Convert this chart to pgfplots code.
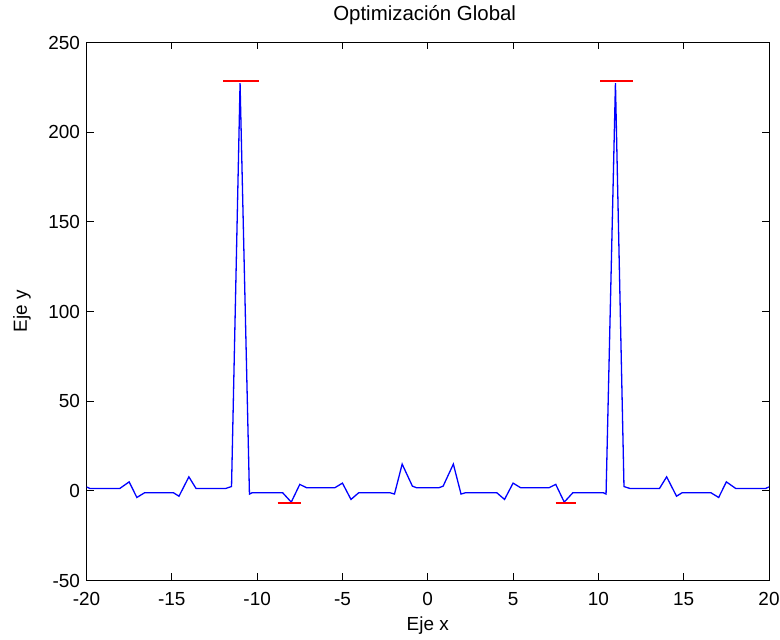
\documentclass[border=0pt]{standalone}
\usepackage{fontspec}
\setmainfont{Liberation Sans}
\usepackage{pgfplots}
\pgfplotsset{compat=1.18}
\definecolor{mred}{RGB}{255,0,0}
\definecolor{mblue}{RGB}{0,0,255}
\begin{document}
\begin{tikzpicture}[x=1bp,y=1bp]
\useasboundingbox (0,0) rectangle (780,640);
\begin{axis}[
  at={(86.5bp,59.5bp)}, anchor=south west,
  scale only axis, width=682.5bp, height=538bp,
  xmin=-20, xmax=20, ymin=-50, ymax=250,
  xtick={-20,-15,...,20}, ytick={-50,0,...,250},
  tick align=inside, major tick length=7bp,
  tick style={black, line width=0.8bp},
  axis line style={black, line width=0.8bp},
  /pgf/number format/assume math mode=true,
  every tick label/.append style={font=\fontsize{19}{22}\selectfont},
  xticklabel style={anchor=base, yshift=-25bp},
  yticklabel style={anchor=east, xshift=-3bp},
  title={Optimización Global},
  title style={at={(axis description cs:0.4955,1)}, anchor=base, yshift=16bp, font=\fontsize{20.5}{24}\selectfont},
  xlabel={Eje x},
  xlabel style={at={(axis description cs:0.5,0)}, anchor=base, yshift=-50bp, font=\fontsize{19}{22}\selectfont},
  ylabel={Eje y},
  ylabel style={at={(axis description cs:-0.0945,0.5)}, anchor=center, font=\fontsize{19}{22}\selectfont},
]
\addplot[draw=mblue, line width=1.3bp, mark=none] coordinates {
(-20,2.2) (-19.8,1.3) (-18.05,1.3) (-17.5,5.0) (-17.05,-3.7) (-16.6,-1.1)
(-14.9,-1.1) (-14.58,-3.0) (-14.0,7.8) (-13.58,1.3) (-11.85,1.3) (-11.5,2.4)
(-11.0,227.3) (-10.45,-1.8) (-10.3,-1.1) (-8.5,-1.1) (-8.0,-6.3) (-7.5,3.6)
(-7.1,1.7) (-5.45,1.7) (-5.0,4.3) (-4.5,-4.8) (-4.05,-1.1) (-2.2,-1.1)
(-1.95,-1.8) (-1.5,14.9) (-0.9,2.6) (-0.65,1.7)
(0.65,1.7) (0.9,2.6) (1.5,14.9) (1.95,-1.8) (2.2,-1.1) (4.05,-1.1)
(4.5,-4.8) (5.0,4.3) (5.45,1.7) (7.1,1.7) (7.5,3.6) (8.0,-6.3) (8.5,-1.1)
(10.3,-1.1) (10.45,-1.8) (11.0,227.3) (11.5,2.4) (11.85,1.3) (13.58,1.3)
(14.0,7.8) (14.58,-3.0) (14.9,-1.1) (16.6,-1.1) (17.05,-3.7) (17.5,5.0)
(18.05,1.3) (19.8,1.3) (20,2.2)
};
\addplot[draw=mred, line width=2bp, mark=none] coordinates {(-12.0,228.3) (-9.9,228.3)};
\addplot[draw=mred, line width=2bp, mark=none] coordinates {(10.1,228.3) (12.0,228.3)};
\addplot[draw=mred, line width=2bp, mark=none] coordinates {(-8.8,-7.0) (-7.45,-7.0)};
\addplot[draw=mred, line width=2bp, mark=none] coordinates {(7.5,-7.0) (8.7,-7.0)};
\end{axis}
\end{tikzpicture}
\end{document}
